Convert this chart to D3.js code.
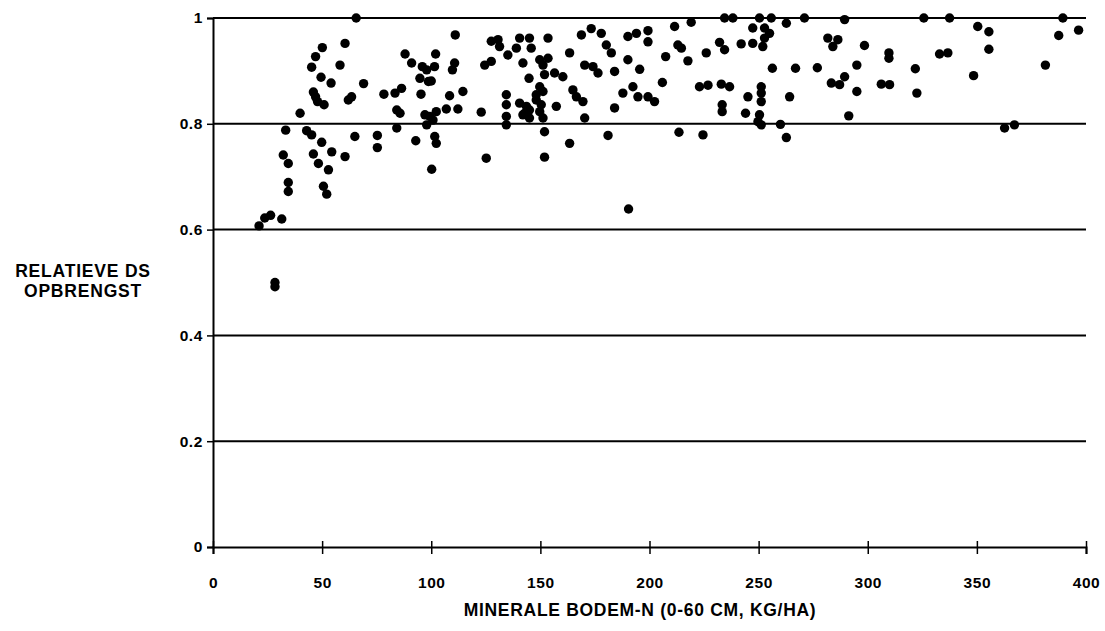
<!DOCTYPE html>
<html>
<head>
<meta charset="utf-8">
<script src="https://cdn.jsdelivr.net/npm/d3@7"></script>
<style>
  body { margin: 0; background: #fff; }
  text { font-family: "Liberation Sans", Arial, sans-serif; font-weight: bold; fill: #000; }
</style>
</head>
<body>
<div id="chart"></div>
<script>
// minerale bodem-N (kg/ha) and relatieve DS opbrengst
var nitrogen = [
  65.6, 60.5, 50.1, 47.0, 45.2, 58.2, 49.5, 54.1, 69.0, 46.0, 47.0, 47.9, 50.9, 62.0, 63.5,
  78.3, 83.4, 86.4, 95.3, 88.0, 91.0, 95.9, 97.9, 94.8, 98.7, 84.2, 85.7, 97.1, 39.9, 33.3,
  42.9, 45.2, 49.8, 65.0, 75.3, 75.3, 84.2, 92.9, 97.9, 32.2, 34.5, 46.0, 48.3, 54.4, 60.5,
  52.9, 34.5, 34.5, 50.6, 52.1, 23.7, 26.4, 31.5, 21.1, 28.4, 28.4, 100.2,
  111.0, 102.0, 101.5, 110.7, 109.7, 100.0, 108.4, 114.5, 106.9, 112.2, 102.3, 99.3, 100.8,
  101.6, 102.3, 125.2, 127.5, 130.6, 131.3, 140.5, 145.0, 145.8, 139.0, 135.1, 153.5, 124.5,
  127.5, 142.0, 149.7, 153.5, 151.2, 163.4, 168.8, 173.3, 177.9, 180.2, 182.5, 190.1, 194.0,
  190.1, 195.5, 170.3, 174.1, 176.4, 184.0, 144.8, 151.9, 156.5, 160.3, 149.7, 151.2, 148.1,
  134.4, 134.4, 140.5, 143.6, 142.8, 145.0, 148.1, 150.4, 149.7, 157.3, 164.9, 166.5, 169.5,
  184.0, 187.8, 192.4, 194.7, 122.9, 134.4, 134.4, 142.0, 145.0, 151.2, 151.9, 170.3, 163.4,
  181.0, 151.9, 190.4,
  234.4, 238.2, 250.4, 255.8, 271.0, 289.4, 219.1, 211.5, 199.3, 199.3, 262.7, 247.3, 252.7,
  255.0, 252.7, 247.3, 251.9, 242.0, 232.1, 234.4, 213.0, 214.6, 226.0, 207.4, 217.6, 281.7,
  286.3, 284.0, 256.3, 266.9, 276.9, 295.0, 205.9, 222.9, 226.8, 232.9, 236.7, 251.2, 251.2,
  251.2, 245.1, 264.2, 283.3, 287.1, 289.4, 295.0, 199.3, 202.3, 233.3, 233.3, 244.0, 250.4,
  249.7, 251.2, 260.0, 262.7, 291.3, 213.5, 224.5,
  325.7, 337.5, 389.4, 350.4, 355.5, 355.5, 387.5, 396.6, 298.5, 309.7, 309.7, 332.9, 336.7,
  321.8, 306.2, 310.0, 322.5, 348.5, 381.4, 362.7, 367.2
];
var relYield = [
  1.000, 0.952, 0.944, 0.927, 0.907, 0.911, 0.888, 0.877, 0.876, 0.860, 0.851, 0.842, 0.836, 0.845, 0.851,
  0.856, 0.858, 0.867, 0.856, 0.932, 0.915, 0.908, 0.902, 0.886, 0.880, 0.826, 0.820, 0.817, 0.820, 0.788,
  0.787, 0.779, 0.765, 0.776, 0.778, 0.755, 0.792, 0.768, 0.798, 0.741, 0.725, 0.743, 0.725, 0.747, 0.738,
  0.713, 0.689, 0.672, 0.682, 0.667, 0.622, 0.627, 0.620, 0.607, 0.500, 0.492, 0.714,
  0.968, 0.932, 0.908, 0.915, 0.902, 0.881, 0.853, 0.861, 0.828, 0.828, 0.823, 0.814, 0.807,
  0.776, 0.763, 0.735, 0.956, 0.959, 0.946, 0.962, 0.962, 0.943, 0.943, 0.930, 0.962, 0.911,
  0.918, 0.915, 0.921, 0.924, 0.911, 0.934, 0.968, 0.980, 0.971, 0.949, 0.934, 0.965, 0.971,
  0.921, 0.903, 0.911, 0.908, 0.896, 0.899, 0.886, 0.893, 0.896, 0.889, 0.870, 0.861, 0.855,
  0.855, 0.836, 0.839, 0.833, 0.820, 0.826, 0.845, 0.836, 0.823, 0.833, 0.864, 0.851, 0.842,
  0.830, 0.858, 0.870, 0.851, 0.822, 0.814, 0.798, 0.817, 0.811, 0.811, 0.785, 0.811, 0.763,
  0.778, 0.737, 0.639,
  1.000, 1.000, 1.000, 1.000, 1.000, 0.997, 0.992, 0.984, 0.976, 0.955, 0.990, 0.981, 0.981,
  0.971, 0.962, 0.952, 0.946, 0.951, 0.954, 0.940, 0.949, 0.943, 0.934, 0.927, 0.919, 0.962,
  0.959, 0.946, 0.905, 0.905, 0.906, 0.911, 0.878, 0.870, 0.873, 0.875, 0.870, 0.870, 0.858,
  0.842, 0.851, 0.851, 0.877, 0.874, 0.889, 0.861, 0.851, 0.842, 0.836, 0.823, 0.820, 0.817,
  0.804, 0.798, 0.799, 0.774, 0.815, 0.784, 0.779,
  1.000, 1.000, 1.000, 0.984, 0.974, 0.941, 0.967, 0.977, 0.948, 0.934, 0.924, 0.932, 0.934,
  0.904, 0.875, 0.874, 0.858, 0.891, 0.911, 0.792, 0.798
];
var xTicks = [0, 50, 100, 150, 200, 250, 300, 350, 400];
var yTicks = [0, 0.2, 0.4, 0.6, 0.8, 1];
var yTitle = ["RELATIEVE DS", "OPBRENGST"];
var xTitle = "MINERALE BODEM-N (0-60 CM, KG/HA)";

var W = 1105, H = 631;
var margin = {top: 18, right: 19, bottom: 84, left: 213};

var svg = d3.select("#chart").append("svg")
    .attr("width", W)
    .attr("height", H);

var x = d3.scaleLinear()
    .domain([0, 400])
    .range([margin.left, W - margin.right]);

var y = d3.scaleLinear()
    .domain([0, 1])
    .range([H - margin.bottom, margin.top]);

// horizontal grid lines
svg.append("g")
  .selectAll("line")
  .data(yTicks.filter(function(d) { return d > 0; }))
  .enter().append("line")
    .attr("x1", x(0))
    .attr("x2", x(400))
    .attr("y1", function(d) { return y(d); })
    .attr("y2", function(d) { return y(d); })
    .attr("stroke", "#000")
    .attr("stroke-width", 2);

var xAxis = d3.axisBottom(x)
    .tickValues(xTicks)
    .tickSize(7)
    .tickPadding(23)
    .tickFormat(d3.format("d"));

var gx = svg.append("g")
    .attr("transform", "translate(0," + y(0) + ")")
    .call(xAxis);
gx.select(".domain").attr("stroke-width", 2);
gx.selectAll(".tick line").attr("y1", -6).attr("stroke-width", 1.5);
gx.selectAll(".tick text")
    .style("font-size", "15.5px")
    .style("letter-spacing", "0.6px");

var yAxis = d3.axisLeft(y)
    .tickValues(yTicks)
    .tickSize(6)
    .tickPadding(4)
    .tickFormat(function(d) { return (d === 0 || d === 1) ? d : d.toFixed(1); });

var gy = svg.append("g")
    .attr("transform", "translate(" + x(0) + ",0)")
    .call(yAxis);
gy.select(".domain").attr("stroke-width", 2);
gy.selectAll(".tick line").attr("stroke-width", 1.5);
gy.selectAll(".tick text")
    .style("font-size", "15.5px")
    .style("letter-spacing", "0.6px");

// axis titles
svg.append("text")
    .attr("x", 83)
    .attr("y", 277)
    .style("text-anchor", "middle")
    .style("font-size", "17.5px")
    .style("letter-spacing", "0.8px")
    .selectAll("tspan")
    .data(yTitle)
    .enter().append("tspan")
      .attr("x", 83)
      .attr("dy", function(d, i) { return i === 0 ? 0 : 20; })
      .text(function(d) { return d; });

svg.append("text")
    .attr("x", 640)
    .attr("y", 616)
    .style("text-anchor", "middle")
    .style("font-size", "17.5px")
    .style("letter-spacing", "0.7px")
    .text(xTitle);

// data points
var pts = nitrogen.map(function(d, i) { return {n: d, r: relYield[i]}; });

svg.selectAll(".dot")
    .data(pts)
  .enter().append("circle")
    .attr("class", "dot")
    .attr("r", 4.7)
    .attr("cx", function(d) { return x(d.n); })
    .attr("cy", function(d) { return y(d.r); })
    .style("fill", "#000");
</script>
</body>
</html>
